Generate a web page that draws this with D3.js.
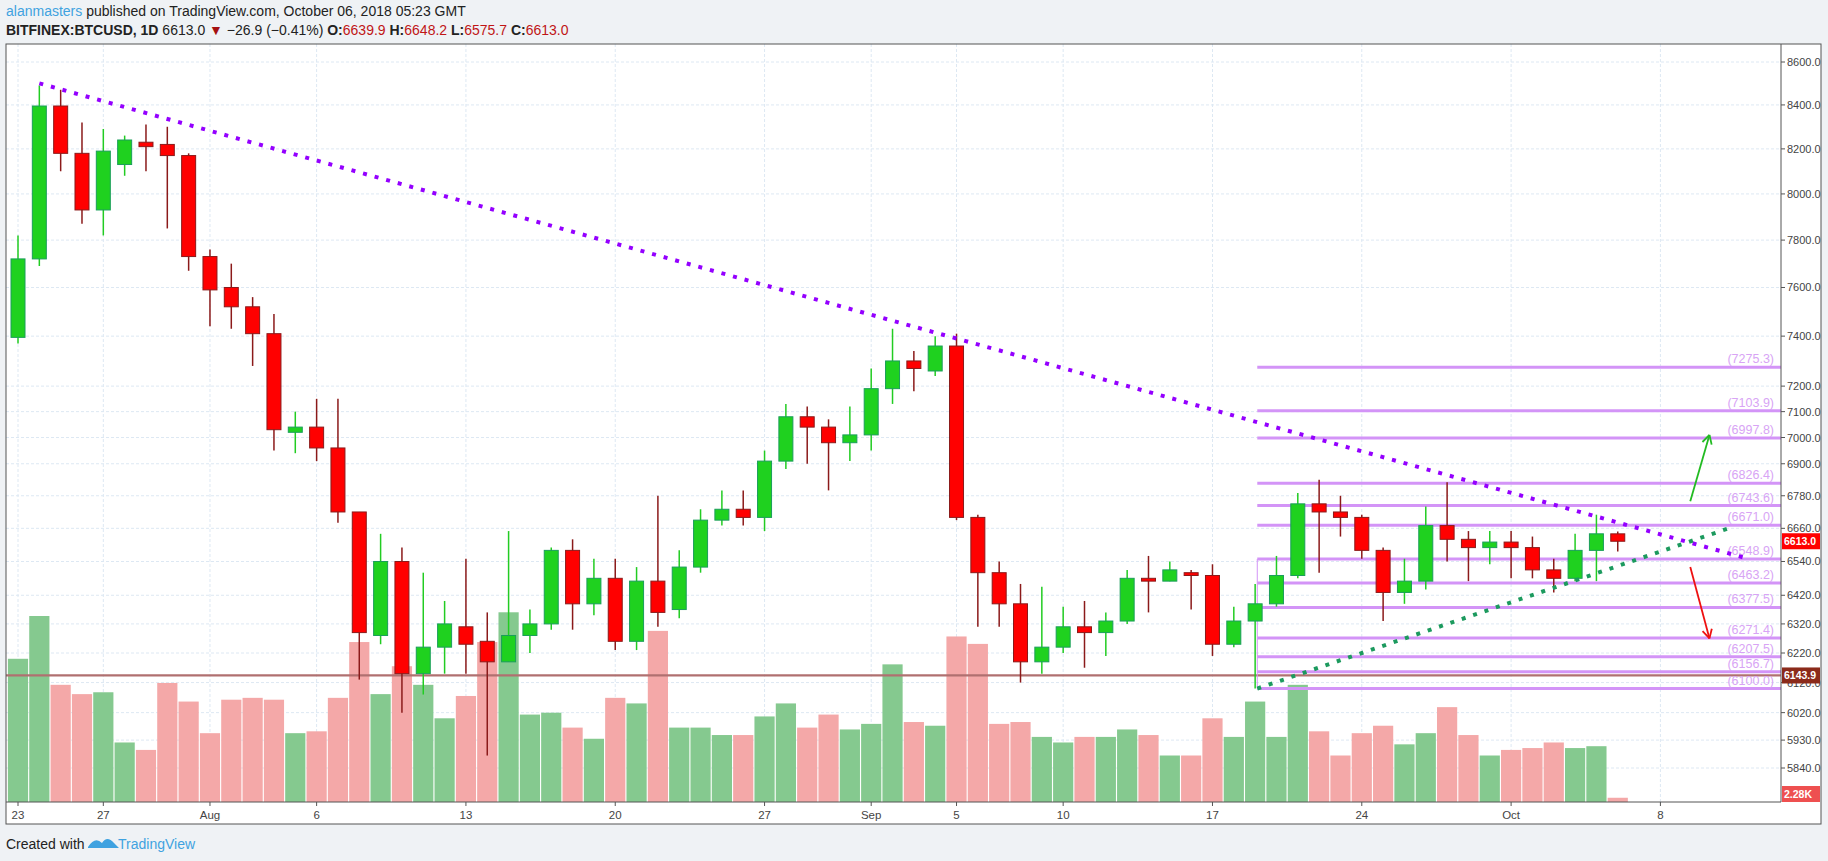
<!DOCTYPE html>
<html><head><meta charset="utf-8">
<script src="https://cdn.jsdelivr.net/npm/d3@7"></script>
<style>html,body{margin:0;padding:0;background:#fff;}svg{display:block;font-family:"Liberation Sans",Arial,sans-serif;}</style>
</head><body>
<svg id="c" width="1828" height="861"></svg>
<script>
const openP = [7395,7720,8395,8180,7930,8130,8230,8220,8170,7730,7600,7520,7410,7020,7040,6960,6720,6280,6540,6150,6240,6310,6260,6190,6280,6320,6580,6390,6480,6260,6470,6370,6520,6690,6730,6700,6910,7080,7040,6980,7010,7190,7300,7260,7360,6700,6500,6390,6190,6240,6310,6290,6330,6480,6470,6500,6490,6250,6330,6390,6490,6750,6720,6700,6580,6430,6470,6670,6620,6590,6610,6590,6510,6480,6580,6639.9];
const highP = [7820,8490,8470,8320,8290,8260,8310,8300,8180,7760,7700,7560,7490,7100,7150,7150,6720,6640,6590,6500,6400,6550,6360,6650,6370,6590,6620,6550,6550,6520,6780,6580,6730,6800,6800,6950,7130,7120,7070,7120,7270,7430,7340,7400,7410,6710,6540,6460,6450,6380,6400,6360,6510,6560,6540,6510,6530,6380,6460,6560,6790,6840,6780,6710,6590,6550,6740,6830,6650,6650,6650,6630,6550,6640,6710,6648.2];
const lowP  = [7370,7690,8100,7870,7820,8080,8100,7850,7670,7440,7430,7280,6950,6940,6910,6680,6130,6250,6020,6080,6150,6150,5880,6190,6220,6300,6300,6350,6230,6230,6310,6340,6500,6670,6670,6650,6880,6900,6800,6910,6950,7130,7180,7240,6690,6310,6310,6120,6150,6220,6170,6210,6320,6360,6470,6370,6210,6240,6100,6380,6480,6500,6630,6550,6330,6390,6440,6540,6470,6530,6480,6480,6430,6470,6470,6575.7];
const closeP = [7720,8395,8180,7930,8190,8240,8210,8170,7730,7590,7520,7410,7030,7040,6960,6720,6290,6540,6150,6240,6320,6250,6190,6280,6320,6580,6390,6480,6260,6470,6360,6520,6690,6730,6700,6910,7080,7040,6980,7010,7190,7300,7270,7360,6700,6500,6390,6190,6240,6310,6290,6330,6480,6470,6510,6490,6250,6330,6390,6490,6750,6720,6700,6580,6430,6470,6670,6620,6590,6610,6590,6510,6480,6580,6640,6613.0];
const volumeK = [77,100,63,58,59,32,28,64,54,37,55,56,55,37,38,56,86,58,73,63,45,57,86,102,47,48,40,34,56,53,92,40,40,36,36,46,53,40,47,39,42,74,43,41,89,85,42,43,35,32,35,35,39,36,25,25,45,35,54,35,63,38,25,37,41,31,37,51,36,25,28,29,32,29,30,2.28];
const dayTicks = [[0,"23"],[4,"27"],[9,"Aug"],[14,"6"],[21,"13"],[28,"20"],[35,"27"],[40,"Sep"],[44,"5"],[49,"10"],[56,"17"],[63,"24"],[70,"Oct"],[77,"8"]];
const priceTicks = [8600,8400,8200,8000,7800,7600,7400,7200,7100,7000,6900,6780,6660,6540,6420,6320,6220,6120,6020,5930,5840];
const levels = [7275.3,7103.9,6997.8,6826.4,6743.6,6671.0,6548.9,6463.2,6377.5,6271.4,6207.5,6156.7,6100.0];
const levelStart = 58.1;
const supportPrice = 6143.9;
const resistLine = [[1,8500],[81.2,6548]];
const supportLine = [[58.1,6100],[80.2,6660]];
const upArrow = [[78.4,6760],[79.3,7010]];
const downArrow = [[78.4,6520],[79.3,6270]];

const svg = d3.select("#c");
const L=6,T=44,R=1781,RO=1821,B=802,FB=824;
const x = d3.scaleLinear().domain([0,1]).range([18,39.33]);
const y = d3.scaleLog().domain([5840,8600]).range([768,62]);
const yv = d3.scaleLinear().domain([0,100]).range([B,B-186]);

svg.append("rect").attr("width",1828).attr("height",861).attr("fill","#eff2f5");
svg.append("rect").attr("x",L).attr("y",T).attr("width",RO-L).attr("height",FB-T).attr("fill","#fff");

const g=svg.append("g");
g.selectAll(".hg").data(priceTicks).join("line").attr("x1",L).attr("x2",R).attr("y1",d=>y(d)).attr("y2",d=>y(d)).attr("stroke","#dde8f3").attr("stroke-dasharray","3,2");
g.selectAll(".vg").data(dayTicks).join("line").attr("x1",d=>x(d[0])).attr("x2",d=>x(d[0])).attr("y1",T).attr("y2",B).attr("stroke","#dde8f3").attr("stroke-dasharray","3,2");

const idx=d3.range(openP.length);
svg.append("g").selectAll("rect").data(idx).join("rect")
 .attr("x",i=>x(i)-10.1).attr("width",20.2).attr("y",i=>yv(volumeK[i])).attr("height",i=>B-yv(volumeK[i]))
 .attr("fill",i=>closeP[i]>=openP[i]?"#85c98f":"#f4a8a8");

svg.append("line").attr("x1",L).attr("x2",R).attr("y1",y(supportPrice)).attr("y2",y(supportPrice)).attr("stroke","#b07070").attr("stroke-width",2.2);

const lg=svg.append("g");
lg.selectAll("line").data(levels).join("line").attr("x1",x(levelStart)).attr("x2",R).attr("y1",d=>y(d)).attr("y2",d=>y(d)).attr("stroke","#d394f7").attr("stroke-width",3);
lg.append("line").attr("x1",x(levelStart)).attr("x2",x(levelStart)).attr("y1",y(levels[6])).attr("y2",y(levels[12])).attr("stroke","#d394f7").attr("stroke-width",1);
lg.selectAll("text").data(levels).join("text").attr("x",R-7).attr("y",d=>y(d)-4).attr("text-anchor","end").attr("font-size",12.5).attr("fill","#d8a4f5").text(d=>"("+d.toFixed(1)+")");

const cg=svg.append("g");
cg.selectAll("line").data(idx).join("line").attr("x1",i=>x(i)).attr("x2",i=>x(i)).attr("y1",i=>y(highP[i])).attr("y2",i=>y(lowP[i]))
 .attr("stroke",i=>closeP[i]>=openP[i]?"#22cc22":"#8b1a1a").attr("stroke-width",1.5);
cg.selectAll("rect").data(idx).join("rect").attr("x",i=>x(i)-7).attr("width",14)
 .attr("y",i=>y(Math.max(openP[i],closeP[i]))).attr("height",i=>Math.max(2,Math.abs(y(openP[i])-y(closeP[i]))))
 .attr("fill",i=>closeP[i]>=openP[i]?"#1fd11f":"#ff0000").attr("stroke",i=>closeP[i]>=openP[i]?"#1a9e5a":"#8b1a1a").attr("stroke-width",1);

const ln=d3.line().x(d=>x(d[0])).y(d=>y(d[1]));
svg.append("path").attr("d",ln(resistLine)).attr("stroke","#9400ff").attr("stroke-width",4).attr("stroke-dasharray","4,8").attr("fill","none");
svg.append("path").attr("d",ln(supportLine)).attr("stroke","#1c9a5e").attr("stroke-width",4).attr("stroke-dasharray","4,8").attr("fill","none");

function arrow(pts,col){
 const [a,b]=pts; const x1=x(a[0]),y1=y(a[1]),x2=x(b[0]),y2=y(b[1]);
 svg.append("line").attr("x1",x1).attr("y1",y1).attr("x2",x2).attr("y2",y2).attr("stroke",col).attr("stroke-width",1.8);
 const ang=Math.atan2(y2-y1,x2-x1);
 [0.5,-0.5].forEach(d=>{svg.append("line").attr("x1",x2).attr("y1",y2).attr("x2",x2-10*Math.cos(ang+d)).attr("y2",y2-10*Math.sin(ang+d)).attr("stroke",col).attr("stroke-width",1.8);});
}
arrow(upArrow,"#22bb22"); arrow(downArrow,"#ee1111");

svg.append("rect").attr("x",L).attr("y",T).attr("width",RO-L).attr("height",FB-T).attr("fill","none").attr("stroke","#555");
svg.append("line").attr("x1",R).attr("x2",R).attr("y1",T).attr("y2",B).attr("stroke","#555");
svg.append("line").attr("x1",L).attr("x2",R).attr("y1",B).attr("y2",B).attr("stroke","#555");
const ax=svg.append("g");
ax.selectAll("line").data(priceTicks).join("line").attr("x1",R).attr("x2",R+4).attr("y1",d=>y(d)).attr("y2",d=>y(d)).attr("stroke","#555");
ax.selectAll("text").data(priceTicks).join("text").attr("x",R+6).attr("y",d=>y(d)+4).attr("font-size",11).attr("fill","#444").text(d=>d.toFixed(1));
const bx=svg.append("g");
bx.selectAll("line").data(dayTicks).join("line").attr("x1",d=>x(d[0])).attr("x2",d=>x(d[0])).attr("y1",B).attr("y2",B+4).attr("stroke","#555");
bx.selectAll("text").data(dayTicks).join("text").attr("x",d=>x(d[0])).attr("y",B+17).attr("text-anchor","middle").attr("font-size",11.5).attr("fill","#444").text(d=>d[1]);

function tag(yy,col,txt){svg.append("rect").attr("x",R+1).attr("y",yy-8).attr("width",38).attr("height",16).attr("fill",col);
 svg.append("text").attr("x",R+3).attr("y",yy+4).attr("font-size",10.5).attr("fill","#fff").attr("font-weight","bold").text(txt);}
tag(y(closeP[75]),"#ff0000",closeP[75].toFixed(1));
tag(y(supportPrice),"#8b2a1a",supportPrice.toFixed(1));
tag(794,"#ee5050",volumeK[75]+"K");

const h=svg.append("text").attr("x",6).attr("y",16).attr("font-size",14);
h.append("tspan").attr("fill","#3fa2e0").text("alanmasters");
h.append("tspan").attr("fill","#222").text(" published on TradingView.com, October 06, 2018 05:23 GMT");
const h2=svg.append("text").attr("x",6).attr("y",35).attr("font-size",14).attr("fill","#222");
h2.append("tspan").attr("font-weight","bold").text("BITFINEX:BTCUSD, 1D ");
h2.append("tspan").text(" 6613.0 ");
h2.append("tspan").attr("fill","#a51010").text("▼");
h2.append("tspan").text(" −26.9 (−0.41%) ");
[["O:","6639.9"],["H:","6648.2"],["L:","6575.7"],["C:","6613.0"]].forEach(p=>{h2.append("tspan").attr("font-weight","bold").text(" "+p[0]);h2.append("tspan").attr("fill","#c01515").text(p[1]);});

svg.append("text").attr("x",6).attr("y",849).attr("font-size",14).attr("fill","#222").text("Created with");
svg.append("path").attr("d","M88 847 q7 -11 14 -4 q5 -8 12 0 l5 5 h-31 z").attr("fill","#3fa2e0");
svg.append("text").attr("x",118).attr("y",849).attr("font-size",14).attr("fill","#3fa2e0").text("TradingView");
</script>
</body></html>
